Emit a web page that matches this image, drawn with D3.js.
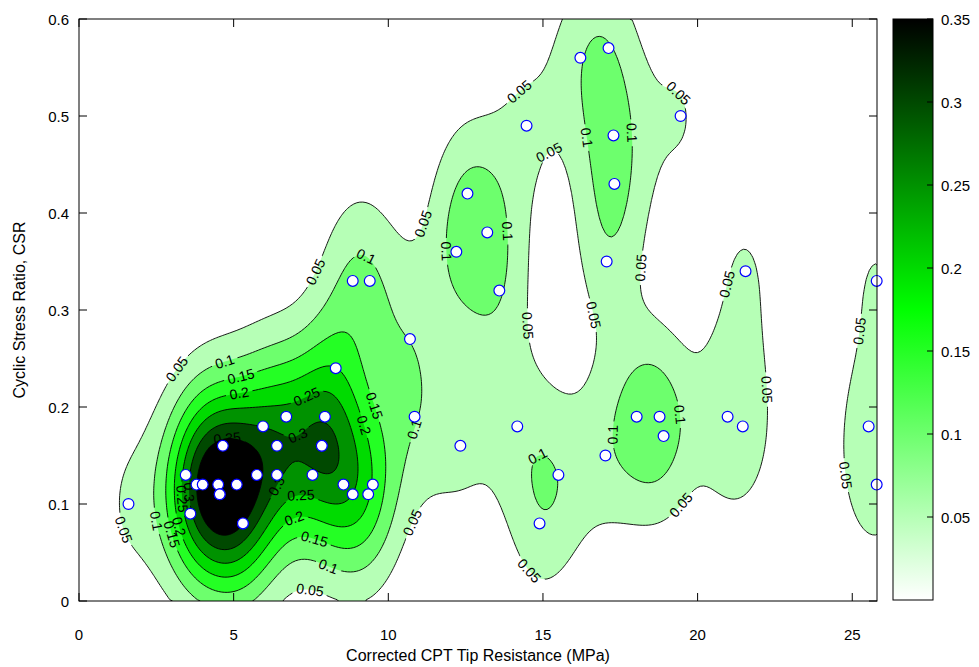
<!DOCTYPE html>
<html>
<head>
<meta charset="utf-8">
<title>CPT liquefaction density</title>
<style>
  body { margin: 0; background: #fff; }
  text { font-family: "Liberation Sans", Arial, sans-serif; }
</style>
</head>
<body>
<svg id="chart" width="979" height="667"></svg>
<script src="https://cdn.jsdelivr.net/npm/d3@7"></script>
<script>
/******* Data *******/
// corrected CPT tip resistance (MPa) and cyclic stress ratio of the case records
// (the last three repeat records that sit exactly under other markers)
var qc = [1.6, 3.45, 3.8, 4.0, 4.5, 4.55, 5.1, 3.6, 5.3, 4.65, 5.95, 5.75, 6.4, 6.4,
          6.7, 7.95, 7.85, 7.55, 8.3, 8.55, 9.5, 8.85, 9.35, 8.85, 9.4, 10.7, 10.85,
          12.2, 12.56, 13.2, 13.59, 14.47, 16.21, 17.12, 17.28, 17.31, 17.06, 19.45,
          12.33, 14.17, 15.5, 14.89, 17.02, 18.03, 18.77, 18.9, 20.97,
          21.55, 21.46, 25.53, 25.79, 25.79,
          7.85, 4.55, 5.3];
var csr = [0.10, 0.13, 0.12, 0.12, 0.12, 0.11, 0.12, 0.09, 0.08, 0.16, 0.18, 0.13, 0.16, 0.13,
           0.19, 0.19, 0.16, 0.13, 0.24, 0.12, 0.12, 0.11, 0.11, 0.33, 0.33, 0.27, 0.19,
           0.36, 0.42, 0.38, 0.32, 0.49, 0.56, 0.57, 0.48, 0.43, 0.35, 0.50,
           0.16, 0.18, 0.13, 0.08, 0.15, 0.19, 0.19, 0.17, 0.19,
           0.34, 0.18, 0.18, 0.33, 0.12,
           0.16, 0.11, 0.08];

var levels = [0.05, 0.1, 0.15, 0.2, 0.25, 0.3, 0.35];
var xTicks = [0, 5, 10, 15, 20, 25];
var yTicks = [0, 0.1, 0.2, 0.3, 0.4, 0.5, 0.6];
var cTicks = [0.05, 0.1, 0.15, 0.2, 0.25, 0.3, 0.35];

// gaussian kernel bandwidths (MPa, CSR)
var hx = 0.85, hy = 0.07;

/******* Layout *******/
var svg = d3.select("#chart");
var L = 79, T = 19, R = 877, B = 601;
var W = R - L, H = B - T;

var x = d3.scaleLinear().domain([0, 25.8]).range([L, R]);
var y = d3.scaleLinear().domain([0, 0.6]).range([B, T]);
var color = d3.scaleLinear().domain([0, 0.175, 0.35]).range(["#ffffff", "#00ff00", "#000000"]);

/******* Density grid *******/
var nx = 260, ny = 240;
var norm = 1 / (qc.length * 2 * Math.PI * hx * hy);
var values = new Float64Array(nx * ny);
for (var j = 0; j < ny; j++) {
  var gy = y.invert(T + (j + 0.5) * H / ny);
  for (var i = 0; i < nx; i++) {
    var gx = x.invert(L + (i + 0.5) * W / nx);
    var s = 0;
    for (var k = 0; k < qc.length; k++) {
      var dx = (gx - qc[k]) / hx, dy = (gy - csr[k]) / hy;
      s += Math.exp(-0.5 * (dx * dx + dy * dy));
    }
    values[j * nx + i] = norm * s;
  }
}

function toPx(p) { return [L + p[0] * W / nx, T + p[1] * H / ny]; }

var contours = d3.contours().size([nx, ny]).thresholds(levels)(values);

svg.append("defs").append("clipPath").attr("id", "plotClip")
  .append("rect").attr("x", L).attr("y", T).attr("width", W).attr("height", H);

var plot = svg.append("g").attr("clip-path", "url(#plotClip)");
plot.append("rect").attr("x", L).attr("y", T).attr("width", W).attr("height", H).attr("fill", "#fff");

var line = d3.line();

// filled bands
contours.forEach(function(c) {
  var d = "";
  c.coordinates.forEach(function(poly) {
    poly.forEach(function(ring) {
      d += line(ring.map(toPx)) + "Z";
    });
  });
  plot.append("path").attr("d", d).attr("fill", color(c.value)).attr("fill-rule", "evenodd");
});

/******* Contour lines with labels *******/
function onEdge(p) {
  return p[0] <= 1e-6 || p[0] >= nx - 1e-6 || p[1] <= 1e-6 || p[1] >= ny - 1e-6;
}

function splitRing(ring) {
  var start = -1;
  for (var k = 0; k < ring.length; k++) if (onEdge(ring[k])) { start = k; break; }
  if (start < 0) return [ring];
  var r = ring.slice(start, ring.length - 1).concat(ring.slice(0, start + 1));
  var runs = [], cur = [];
  r.forEach(function(p) {
    if (onEdge(p)) {
      if (cur.length > 1 && cur.some(function(q) { return !onEdge(q); })) {
        cur.push(p); runs.push(cur);
      }
      cur = [p];
    } else cur.push(p);
  });
  return runs;
}

function pointAt(pts, cum, s) {
  var len = cum[cum.length - 1];
  s = Math.max(0, Math.min(len, s));
  var k = d3.bisectLeft(cum, s);
  if (k <= 0) return pts[0];
  var t = (s - cum[k - 1]) / ((cum[k] - cum[k - 1]) || 1);
  return [pts[k - 1][0] + t * (pts[k][0] - pts[k - 1][0]), pts[k - 1][1] + t * (pts[k][1] - pts[k - 1][1])];
}

var labels = [];
var lineRuns = [];
var spacing = 190;

contours.forEach(function(c) {
  c.coordinates.forEach(function(poly) {
    poly.forEach(function(ring) {
      splitRing(ring).forEach(function(run) {
        var pts = run.map(toPx);
        lineRuns.push(pts);
        var cum = [0];
        for (var k = 1; k < pts.length; k++) {
          cum.push(cum[k - 1] + Math.hypot(pts[k][0] - pts[k - 1][0], pts[k][1] - pts[k - 1][1]));
        }
        var len = cum[cum.length - 1];
        if (len < 45) return;
        var n = Math.max(1, Math.round(len / spacing));
        for (var m = 0; m < n; m++) {
          var sPos = len * (m + 0.5) / n;
          var a = pointAt(pts, cum, sPos - 10), b = pointAt(pts, cum, sPos + 10), p = pointAt(pts, cum, sPos);
          if (p[0] < L + 12 || p[0] > R - 12 || p[1] < T + 8 || p[1] > B - 8) continue;
          var ang = Math.atan2(b[1] - a[1], b[0] - a[0]) * 180 / Math.PI;
          if (ang > 90) ang -= 180;
          if (ang < -90) ang += 180;
          labels.push({x: p[0], y: p[1], angle: ang, text: String(c.value)});
        }
      });
    });
  });
});

var mask = svg.select("defs").append("mask").attr("id", "gapMask");
mask.append("rect").attr("x", 0).attr("y", 0).attr("width", 979).attr("height", 667).attr("fill", "#fff");
mask.selectAll("rect.gap").data(labels).enter().append("rect")
  .attr("class", "gap")
  .attr("x", function(d) { return -d.text.length * 3.8 - 2; })
  .attr("y", -6)
  .attr("width", function(d) { return d.text.length * 7.6 + 4; })
  .attr("height", 12)
  .attr("fill", "#000")
  .attr("transform", function(d) { return "translate(" + d.x + "," + d.y + ") rotate(" + d.angle + ")"; });

plot.append("g").attr("mask", "url(#gapMask)")
  .selectAll("path").data(lineRuns).enter().append("path")
  .attr("d", function(d) { return line(d); })
  .attr("fill", "none").attr("stroke", "#000").attr("stroke-width", 0.9);

plot.append("g").selectAll("text").data(labels).enter().append("text")
  .attr("transform", function(d) { return "translate(" + d.x + "," + d.y + ") rotate(" + d.angle + ")"; })
  .attr("text-anchor", "middle").attr("dy", "0.35em")
  .attr("font-size", 14).attr("fill", "#000")
  .text(function(d) { return d.text; });

/******* Points *******/
svg.append("g").selectAll("circle").data(qc).enter().append("circle")
  .attr("cx", function(d) { return x(d); })
  .attr("cy", function(d, i) { return y(csr[i]); })
  .attr("r", 5.4)
  .attr("fill", "#fff").attr("stroke", "#0000ff").attr("stroke-width", 1.2);

/******* Axes *******/
var axes = svg.append("g").attr("stroke", "#000").attr("stroke-width", 1);
axes.append("rect").attr("x", L).attr("y", T).attr("width", W).attr("height", H).attr("fill", "none");
xTicks.forEach(function(t) {
  axes.append("line").attr("x1", x(t)).attr("x2", x(t)).attr("y1", B).attr("y2", B - 8);
  axes.append("line").attr("x1", x(t)).attr("x2", x(t)).attr("y1", T).attr("y2", T + 8);
});
yTicks.forEach(function(t) {
  axes.append("line").attr("x1", L).attr("x2", L + 8).attr("y1", y(t)).attr("y2", y(t));
  axes.append("line").attr("x1", R).attr("x2", R - 8).attr("y1", y(t)).attr("y2", y(t));
});

svg.append("g").selectAll("text").data(xTicks).enter().append("text")
  .attr("x", function(d) { return x(d); }).attr("y", 640)
  .attr("text-anchor", "middle").attr("font-size", 15)
  .text(function(d) { return d; });

svg.append("g").selectAll("text").data(yTicks).enter().append("text")
  .attr("x", 69).attr("y", function(d) { return y(d) + 5.5; })
  .attr("text-anchor", "end").attr("font-size", 15)
  .text(function(d) { return d; });

svg.append("text").attr("x", 478).attr("y", 661).attr("text-anchor", "middle")
  .attr("font-size", 16).text("Corrected CPT Tip Resistance (MPa)");
svg.append("text").attr("transform", "translate(25,310) rotate(-90)").attr("text-anchor", "middle")
  .attr("font-size", 16).text("Cyclic Stress Ratio, CSR");

/******* Colorbar *******/
var cb = {x: 893, w: 40, top: 19, bottom: 600};
var cy = d3.scaleLinear().domain([0, 0.35]).range([cb.bottom, cb.top]);
var grad = svg.select("defs").append("linearGradient").attr("id", "cbGrad")
  .attr("x1", 0).attr("y1", 1).attr("x2", 0).attr("y2", 0);
[0, 0.5, 1].forEach(function(o) {
  grad.append("stop").attr("offset", o).attr("stop-color", color(o * 0.35));
});
svg.append("rect").attr("x", cb.x).attr("y", cb.top).attr("width", cb.w).attr("height", cb.bottom - cb.top)
  .attr("fill", "url(#cbGrad)").attr("stroke", "#000");
cTicks.forEach(function(t) {
  svg.append("line").attr("x1", cb.x + cb.w).attr("x2", cb.x + cb.w - 6)
    .attr("y1", cy(t)).attr("y2", cy(t)).attr("stroke", "#000");
});
svg.append("g").selectAll("text").data(cTicks).enter().append("text")
  .attr("x", 941).attr("y", function(d) { return cy(d) + 5.5; })
  .attr("font-size", 15)
  .text(function(d) { return d; });
</script>
</body>
</html>
